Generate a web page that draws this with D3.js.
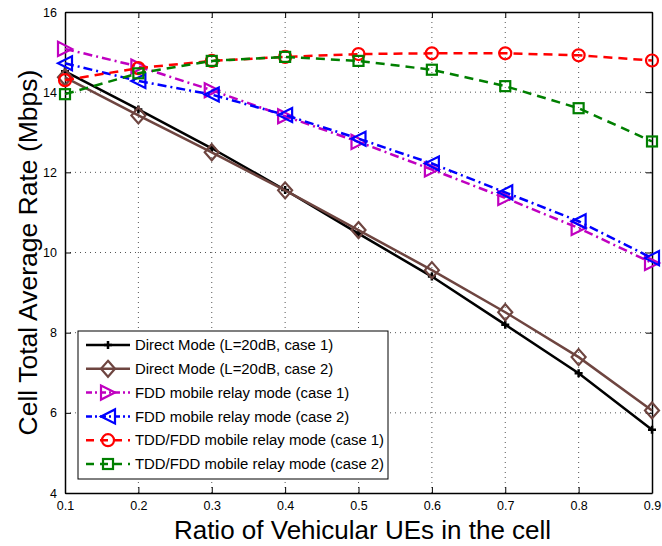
<!DOCTYPE html>
<html><head><meta charset="utf-8">
<script src="https://cdn.jsdelivr.net/npm/d3@7"></script>
<style>body{margin:0;background:#fff;} svg{display:block;font-family:"Liberation Sans",Arial,sans-serif;}</style>
</head><body>
<script>
const xValues = [0.1,0.2,0.3,0.4,0.5,0.6,0.7,0.8,0.9];
const xTicks = [0.1,0.2,0.3,0.4,0.5,0.6,0.7,0.8,0.9];
const yTicks = [4,6,8,10,12,14,16];
const directCase1 = [14.52,13.57,12.6,11.56,10.47,9.4,8.2,6.99,5.58];
const directCase2 = [14.37,13.42,12.5,11.55,10.56,9.56,8.51,7.39,6.06];
const fddCase1 = [15.08,14.64,14.05,13.4,12.76,12.07,11.36,10.61,9.74];
const fddCase2 = [14.72,14.28,13.94,13.43,12.84,12.22,11.5,10.78,9.86];
const tddCase1 = [14.3,14.6,14.78,14.88,14.95,14.97,14.97,14.92,14.79];
const tddCase2 = [13.95,14.47,14.78,14.88,14.78,14.56,14.15,13.6,12.77];
const seriesNames = ["Direct Mode (L=20dB, case 1)","Direct Mode (L=20dB, case 2)","FDD mobile relay mode (case 1)","FDD mobile relay mode (case 2)","TDD/FDD mobile relay mode (case 1)","TDD/FDD mobile relay mode (case 2)"];
const xLabel = "Ratio of Vehicular UEs in the cell";
const yLabel = "Cell Total Average Rate (Mbps)";

const series = [
  {name: seriesNames[0], values: directCase1, color:"#000000", dash:null, marker:"plus"},
  {name: seriesNames[1], values: directCase2, color:"#6e4540", dash:null, marker:"diamond"},
  {name: seriesNames[2], values: fddCase1, color:"#c000c0", dash:"9,4,2,4", marker:"triright"},
  {name: seriesNames[3], values: fddCase2, color:"#0000ff", dash:"9,4,2,4", marker:"trileft"},
  {name: seriesNames[4], values: tddCase1, color:"#ff0000", dash:"9,6", marker:"circle"},
  {name: seriesNames[5], values: tddCase2, color:"#007f00", dash:"9,6", marker:"square"}
];

const W=662,H=546;
const m={left:65,right:10,top:12,bottom:53};
const svg=d3.select("body").append("svg").attr("width",W).attr("height",H);
const x=d3.scaleLinear().domain([0.1,0.9]).range([m.left,W-m.right]);
const y=d3.scaleLinear().domain([4,16]).range([H-m.bottom,m.top]);
const x0=x.range()[0],x1=x.range()[1],y0=y.range()[0],y1=y.range()[1];

// grid
const g=svg.append("g");
g.selectAll(".gx").data(xTicks.slice(1,-1)).enter().append("line")
 .attr("x1",d=>x(d)).attr("x2",d=>x(d)).attr("y1",y0).attr("y2",y1)
 .attr("stroke","#555").attr("stroke-width",1).attr("stroke-dasharray","1,4");
g.selectAll(".gy").data(yTicks.slice(1,-1)).enter().append("line")
 .attr("y1",d=>y(d)).attr("y2",d=>y(d)).attr("x1",x0).attr("x2",x1)
 .attr("stroke","#555").attr("stroke-width",1).attr("stroke-dasharray","1,4");

// axes
const fmtX=d3.format(".1f");
const ax=svg.append("g").attr("transform",`translate(0,${y0})`)
 .call(d3.axisBottom(x).tickValues(xTicks).tickFormat(fmtX).tickSizeInner(-6).tickSizeOuter(0).tickPadding(8));
const ay=svg.append("g").attr("transform",`translate(${x0},0)`)
 .call(d3.axisLeft(y).tickValues(yTicks).tickSizeInner(-6).tickSizeOuter(0).tickPadding(8));
const at=svg.append("g").attr("transform",`translate(0,${y1})`)
 .call(d3.axisTop(x).tickValues(xTicks).tickFormat("").tickSizeInner(-6).tickSizeOuter(0));
const ar=svg.append("g").attr("transform",`translate(${x1},0)`)
 .call(d3.axisRight(y).tickValues(yTicks).tickFormat("").tickSizeInner(-6).tickSizeOuter(0));
[ax,ay,at,ar].forEach(a=>{a.select(".domain").attr("stroke","#000").attr("stroke-width",1.5);
 a.selectAll("text").attr("font-size",12.5).attr("fill","#000").attr("font-family","Liberation Sans, Arial, sans-serif");});

// markers
function drawMarker(sel,type,color){
  const s=7;
  if(type==="plus"){
    sel.append("path").attr("d",`M${-4},0L4,0M0,${-4}L0,4`).attr("stroke",color).attr("stroke-width",2.5).attr("fill","none");
  } else if(type==="diamond"){
    sel.append("path").attr("d",`M0,${-s-1}L${s},0L0,${s+1}L${-s},0Z`).attr("stroke",color).attr("stroke-width",2.2).attr("fill","none");
  } else if(type==="triright"){
    sel.append("path").attr("d",`M${s},0L${-s},${-s}L${-s},${s}Z`).attr("stroke",color).attr("stroke-width",2.2).attr("fill","none");
  } else if(type==="trileft"){
    sel.append("path").attr("d",`M${-s},0L${s},${-s}L${s},${s}Z`).attr("stroke",color).attr("stroke-width",2.2).attr("fill","none");
  } else if(type==="circle"){
    sel.append("circle").attr("r",6).attr("stroke",color).attr("stroke-width",2.2).attr("fill","none");
  } else if(type==="square"){
    sel.append("rect").attr("x",-5).attr("y",-5).attr("width",10).attr("height",10).attr("stroke",color).attr("stroke-width",2.2).attr("fill","none");
  }
}

const line=d3.line().x((d,i)=>x(xValues[i])).y(d=>y(d));
series.forEach(s=>{
  const p=svg.append("path").datum(s.values).attr("d",line).attr("fill","none")
    .attr("stroke",s.color).attr("stroke-width",2.5);
  if(s.dash) p.attr("stroke-dasharray",s.dash);
  s.values.forEach((v,i)=>{
    const mg=svg.append("g").attr("transform",`translate(${x(xValues[i])},${y(v)})`);
    drawMarker(mg,s.marker,s.color);
  });
});

// legend
const lg=svg.append("g");
const lx=78, ly=331, lw=310, lh=148;
lg.append("rect").attr("x",lx).attr("y",ly).attr("width",lw).attr("height",lh).attr("fill","#fff").attr("stroke","#000").attr("stroke-width",1);
series.forEach((s,i)=>{
  const yy=ly+14+i*23.8;
  const l=lg.append("line").attr("x1",lx+8).attr("x2",lx+52).attr("y1",yy).attr("y2",yy).attr("stroke",s.color).attr("stroke-width",2.5);
  if(s.dash) l.attr("stroke-dasharray",s.dash==="9,6"?"8,6":"6,3,2,3");
  const mg=lg.append("g").attr("transform",`translate(${lx+30},${yy})`);
  drawMarker(mg,s.marker,s.color);
  lg.append("text").attr("x",lx+57).attr("y",yy).attr("dy","0.35em").attr("font-size",14.9).attr("fill","#000").text(s.name);
});

// axis titles
svg.append("text").attr("x",(x0+x1)/2 + 4).attr("y",539).attr("text-anchor","middle").attr("font-size",26).text(xLabel);
svg.append("text").attr("transform",`translate(37,${(y0+y1)/2}) rotate(-90)`).attr("text-anchor","middle").attr("font-size",26.5).text(yLabel);
</script>
</body></html>
